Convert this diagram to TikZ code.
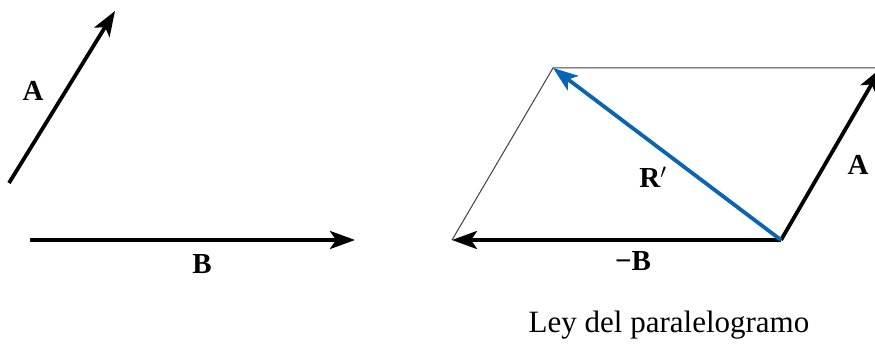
\documentclass[tikz,border=0pt]{standalone}
\usepackage{fontspec}
\setmainfont{Liberation Serif}
\usetikzlibrary{arrows.meta}
\definecolor{vblue}{RGB}{10,100,180}
\tikzset{
  vec/.style={line width=3.8pt,-{Stealth[length=25pt,width=18pt,inset=6pt]}},
  thin/.style={line width=1pt,draw=black!75},
  lbl/.style={font=\fontsize{29}{34}\selectfont\bfseries,inner sep=0pt},
}
\begin{document}
\begin{tikzpicture}[x=1pt,y=-1pt]
\useasboundingbox (0,0) rectangle (875,353);
\clip (0,0) rectangle (875,353);
% left
\coordinate (a0) at (9,183);
\coordinate (a1) at (115,11);
\coordinate (b0) at (30,240);
\coordinate (b1) at (355,240);
\draw[vec] (a0) -- (a1);
\draw[vec] (b0) -- (b1);
\node[lbl] (la) at (33,91) {A};
\node[lbl] (lb) at (202,264) {B};
% right
\coordinate (O) at (781,240);
\coordinate (BL) at (452,240);
\coordinate (TL) at (553,68);
\coordinate (TR) at (881,68);
\draw[thin] (BL) -- (TL) -- (TR);
\draw[vec] (O) -- (BL);
\draw[vec] (O) -- (TR);
\draw[vec,draw=vblue,fill=vblue] (O) -- (TL);
\node[lbl] (lr) at (653,177) {R$'$};
\node[lbl] (lmb) at (633,261) {\textminus B};
\node[lbl] (la2) at (858,165) {A};
\node[font=\fontsize{31}{36}\selectfont,inner sep=0pt] (cap) at (669,325) {Ley del paralelogramo};
\end{tikzpicture}
\end{document}
